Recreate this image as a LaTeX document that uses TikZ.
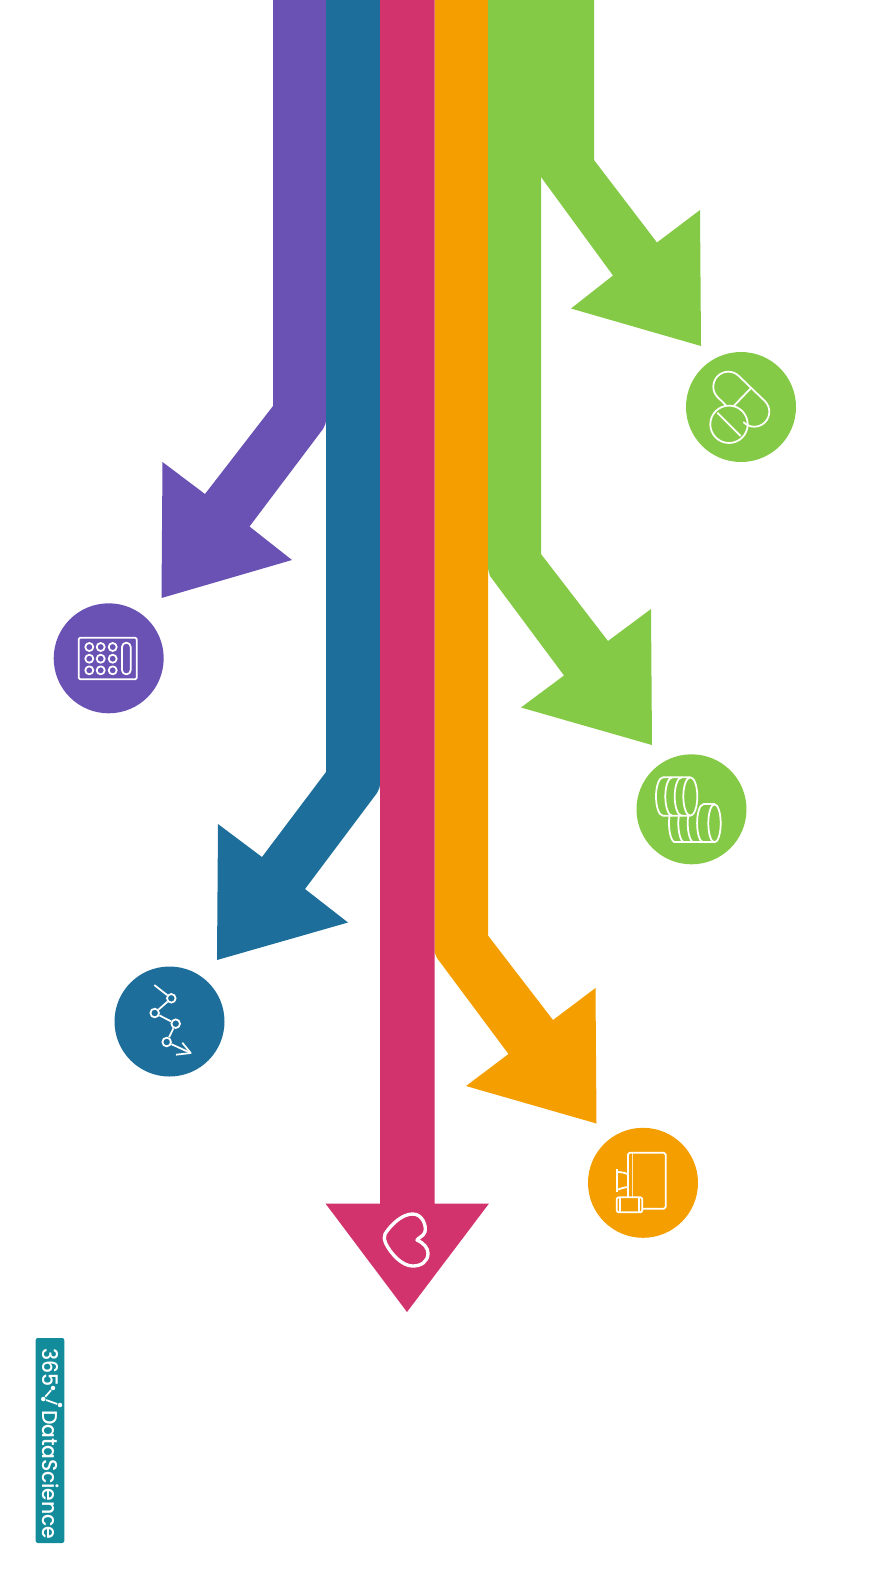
\documentclass[tikz,border=0pt]{standalone}
\usepackage{fontspec}
\setmainfont{Poppins}
\newfontfamily\logofont[FakeStretch=0.95, LetterSpace=-1]{Poppins Medium}
\definecolor{tabletpurple}{RGB}{106,82,180}
\definecolor{dosageblue}{RGB}{30,110,156}
\definecolor{heartpink}{RGB}{210,51,108}
\definecolor{kitorange}{RGB}{245,158,0}
\definecolor{pillgreen}{RGB}{133,202,71}
\definecolor{logoteal}{RGB}{18,140,155}
\tikzset{
  icon/.style={draw=white, line width=0.5pt, line join=round},
  dotnode/.style={circle, draw=white, line width=0.5pt, inner sep=0pt, minimum size=0.086cm},
  logotext/.style={rotate=-90, text=white, font=\logofont\fontsize{6.1}{6}\selectfont, inner sep=0pt, anchor=west},
}
\begin{document}
\begin{tikzpicture}[x=0.01cm, y=0.01cm]
    \useasboundingbox (0,0) rectangle (891,-1584);
    % Purple arrow
    \fill[tabletpurple] (273,0) -- (273,-406) -- (205,-494) -- (162.5,-462) -- (161.5,-598) -- (292,-560) -- (249.5,-526.5) -- (323,-429) .. controls (325,-426) and (326,-423) .. (326,-419) -- (326,0) -- cycle;
    % Blue arrow
    \fill[dosageblue] (326,0) -- (326,-772) -- (262,-857) -- (218,-824) -- (217,-960) -- (348,-922.5) -- (305,-889) -- (377,-793) .. controls (379,-790) and (380,-787) .. (380,-783) -- (380,0) -- cycle;
    % Orange arrow
    \fill[kitorange] (434.5,0) -- (434.5,-948) .. controls (434.5,-952) and (435,-955) .. (437,-958) -- (508.5,-1054) -- (466,-1086) -- (596.5,-1123.5) -- (595.5,-988) -- (553,-1020) -- (488,-935.5) -- (488,0) -- cycle;
    % Pink arrow
    \fill[heartpink] (380,0) -- (380,-1203.5) -- (325.5,-1203.5) -- (407,-1312) -- (489,-1203.5) -- (434.5,-1203.5) -- (434.5,0) -- cycle;
    % Green arrows
    \fill[pillgreen] (488,0) -- (488,-566) .. controls (488,-570) and (489,-573) .. (490,-576) -- (564,-675.5) -- (521,-707.5) -- (652,-745) -- (651,-609) -- (608,-641) -- (541,-554) -- (541,0) -- cycle;
    \fill[pillgreen] (541,0) -- (541,-177) -- (613,-275.5) -- (571,-308.5) -- (701,-346) -- (700,-210) -- (657,-242.5) -- (594,-160) -- (594,0) -- cycle;
    % Circles
    \fill[pillgreen] (741,-407) circle (55);
    \fill[tabletpurple] (108.7,-658.3) circle (55);
    \fill[pillgreen] (691.5,-809.3) circle (55);
    \fill[dosageblue] (169.5,-1021.5) circle (55);
    \fill[kitorange] (643,-1182.8) circle (55);
    % Capsule and tablet
    \draw[icon] (729,-424.3) circle (18.7);
    \draw[icon] (717.3,-412.7) -- (740.7,-436);
    \draw[icon] (725.7,-405) -- (717.7,-397.3) arc (225:45:15) -- (764.9,-401.1) arc (45:-135:15) -- (747.3,-425);
    \draw[icon] (750.7,-388.3) -- (734,-405.7);
    % Plate of tablets
    \draw[icon, rounded corners=0.4pt] (78.7,-637.7) rectangle (136.7,-679.3);
    \foreach \dotx in {89.3,100.7,112.7}
        \foreach \doty in {647,658.7,670.3}
            \draw[icon] (\dotx,-\doty) circle (4);
    \draw[icon, rounded corners=1.2pt] (122,-642.7) rectangle (130.7,-674.3);
    % Coins
    \draw[icon] (690.3,-796.5) ellipse (7 and 19.2);
    \draw[icon] (690.3,-777.3) -- (663,-777.3) arc (90:270:7 and 19.2) -- (690.3,-815.7);
    \foreach \coinx in {672.3,681.7}
        \draw[icon] (\coinx,-777.3) arc (90:270:7 and 19.2);
    \draw[icon] (714.5,-823.3) ellipse (6.2 and 19);
    \draw[icon] (703.3,-804.3) -- (714.5,-804.3);
    \draw[icon] (714.5,-842.3) -- (675.2,-842.3);
    \foreach \coinx in {675.2,684.5,693.9}
        \draw[icon] (\coinx,-823.3) ++(156:6.2 and 19) arc (156:270:6.2 and 19);
    \draw[icon] (703.3,-823.3) ++(90:6.2 and 19) arc (90:270:6.2 and 19);
    % Curve with dots
    \node[dotnode] (dotA) at (171.3,-998.3) {};
    \node[dotnode] (dotB) at (154.7,-1013) {};
    \node[dotnode] (dotC) at (175.7,-1023.7) {};
    \node[dotnode] (dotD) at (166.7,-1042) {};
    \coordinate (curvestart) at (154.3,-985);
    \coordinate (curveend) at (190.7,-1053);
    \draw[icon] (curvestart) -- (dotA);
    \draw[icon] (dotA) -- (dotB);
    \draw[icon] (dotB) -- (dotC);
    \draw[icon] (dotC) -- (dotD);
    \draw[icon] (dotD) -- (curveend);
    \draw[icon] (182.3,-1042.7) -- (curveend) -- (176,-1054.7);
    % Book and box
    \draw[icon, rounded corners=0.5pt] (628,-1197.3) -- (628,-1152.7) -- (665.7,-1152.7) -- (665.7,-1208.7) -- (642.7,-1208.7);
    \draw[draw=white, line width=0.55pt, opacity=0.75] (632.5,-1152.7) -- (632.5,-1197.3);
    \draw[icon, rounded corners=0.6pt] (616.7,-1197.3) rectangle (642.3,-1212.3);
    \draw[icon] (620,-1197.3) -- (620,-1212.3);
    \draw[icon] (639,-1197.3) -- (639,-1212.3);
    \draw[icon] (616.7,-1169) -- (616.7,-1192.3);
    \draw[icon] (616.7,-1172) .. controls (622,-1172) and (626,-1173) .. (628,-1174.5);
    \draw[icon] (616.7,-1190) .. controls (622,-1188) and (626,-1187) .. (628,-1187);
    % Heart
    \draw[draw=white, line width=0.95pt, line join=round] (385,-1234) .. controls (392,-1223) and (403,-1214) .. (412.7,-1214) .. controls (422.7,-1214) and (426.5,-1226) .. (425,-1231.7) .. controls (423.5,-1236.7) and (418,-1237.5) .. (417,-1240) .. controls (424.3,-1243.3) and (428,-1248.3) .. (428,-1253.3) .. controls (428,-1261.7) and (421,-1266) .. (412.7,-1266) .. controls (402,-1266) and (391,-1254) .. (385.5,-1243) .. controls (384,-1240) and (384,-1237) .. (385,-1234) -- cycle;
    % Logo
    \fill[logoteal, rounded corners=0.6pt] (35.7,-1338) rectangle (64.3,-1543);
    \node[logotext] (logoA) at (50.7,-1348) {365};
    \node[logotext] (logoB) at (50.7,-1410) {DataScience};
    \node[circle, fill=white, inner sep=0pt, minimum size=0.045cm] (logodotA) at (53,-1388) {};
    \node[circle, fill=white, inner sep=0pt, minimum size=0.045cm] (logodotB) at (60,-1405) {};
    \node[circle, fill=white, inner sep=0pt, minimum size=0.045cm] (logodotC) at (43.3,-1399) {};
    \draw[icon] (logodotA) -- (logodotC);
    \draw[icon] (logodotC) -- (logodotB);
\end{tikzpicture}
\end{document}
